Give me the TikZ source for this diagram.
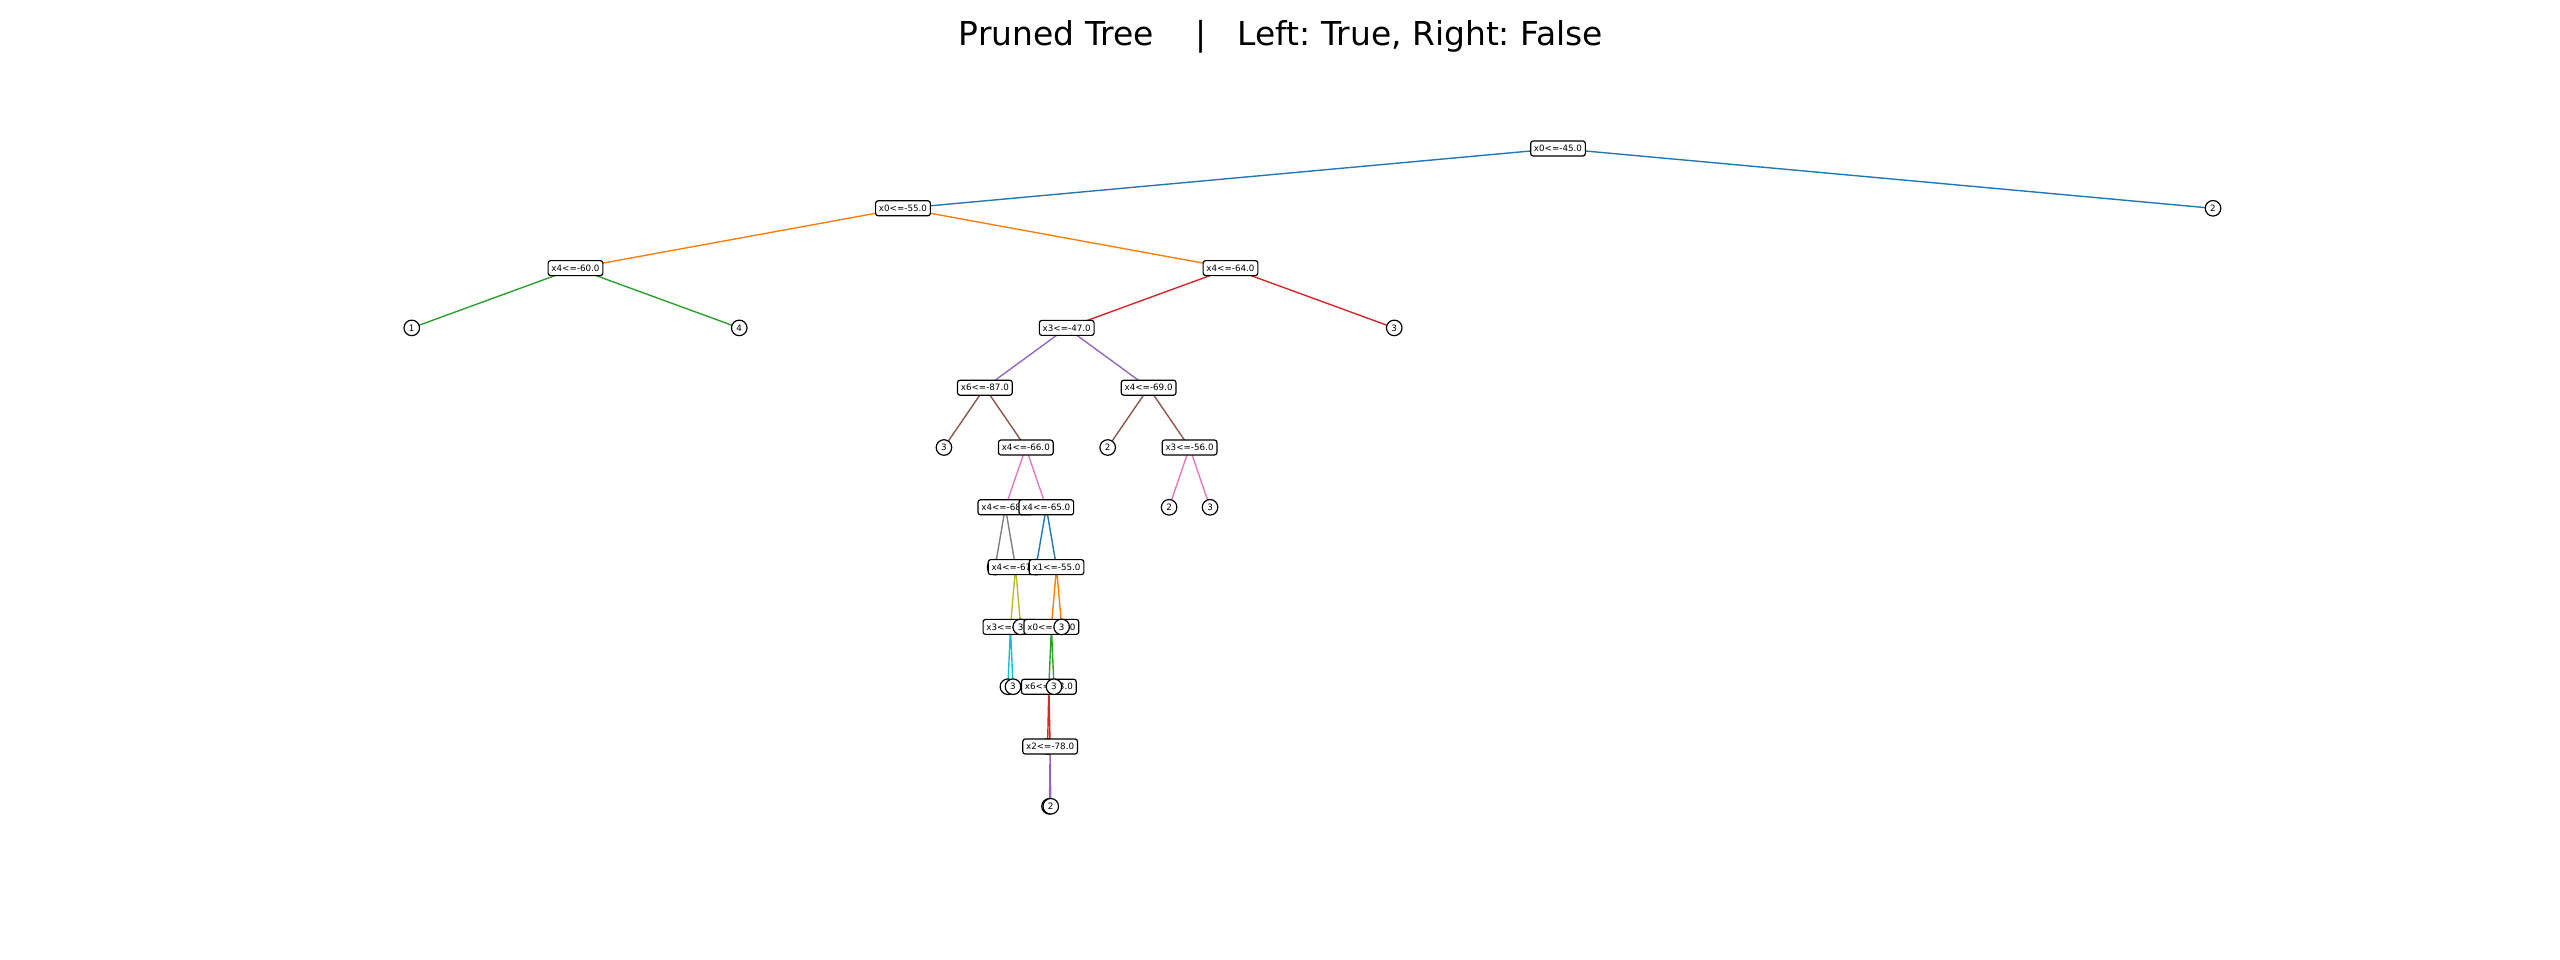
\documentclass[tikz,border=0pt]{standalone}
\usepackage{fontspec}
\setmainfont{DejaVu Sans}
\frenchspacing
\definecolor{tabblue}{HTML}{1F77B4}
\definecolor{taborange}{HTML}{FF7F0E}
\definecolor{tabgreen}{HTML}{2CA02C}
\definecolor{tabred}{HTML}{D62728}
\definecolor{tabpurple}{HTML}{9467BD}
\definecolor{tabbrown}{HTML}{8C564B}
\definecolor{tabpink}{HTML}{E377C2}
\definecolor{tabgray}{HTML}{7F7F7F}
\definecolor{tabolive}{HTML}{BCBD22}
\definecolor{tabcyan}{HTML}{17BECF}
\pgfdeclarelayer{bg}
\pgfsetlayers{bg,main}
\tikzset{
  splitbox/.style={draw, line width=0.85pt, fill=white, rounded corners=1.8pt, inner xsep=2.4pt, inner ysep=0pt, minimum height=10.8pt, font=\fontsize{6.3}{7}\selectfont},
  leafnode/.style={draw, circle, line width=0.85pt, fill=white, minimum size=11.2pt, inner sep=0pt, font=\fontsize{6.3}{7}\selectfont},
  edge/.style={line width=1pt},
}
\begin{document}
\begin{tikzpicture}[x={(0.72pt,0)}, y={(0,-0.72pt)}]
\useasboundingbox (0,0) rectangle (2560,960);
\node[anchor=base, font=\fontsize{23.7}{28}\selectfont] (title) at (1281,45) {Pruned Tree\ \ \ \ |\ \ \ Left: True, Right: False};
% nodes in drawing order (pre-order, left first)
\node[splitbox] (n0) at (1558,148.5) {x0<=-45.0};
\node[splitbox] (n1) at (903,208.3) {x0<=-55.0};
\node[splitbox] (n2) at (575.5,268.1) {x4<=-60.0};
\node[leafnode] (l1) at (411.75,327.9) {1};
\node[leafnode] (l2) at (739.25,327.9) {4};
\node[splitbox] (n3) at (1230.5,268.1) {x4<=-64.0};
\node[splitbox] (n4) at (1066.75,327.9) {x3<=-47.0};
\node[splitbox] (n5) at (984.875,387.7) {x6<=-87.0};
\node[leafnode] (l3) at (943.94,447.5) {3};
\node[splitbox] (n6) at (1025.81,447.5) {x4<=-66.0};
\node[splitbox] (n7) at (1005.34,507.3) {x4<=-68.0};
\node[leafnode] (l4) at (995.11,567.1) {3};
\node[splitbox] (n8) at (1015.58,567.1) {x4<=-67.0};
\node[splitbox] (n9) at (1010.46,626.9) {x3<=-50.0};
\node[leafnode] (l5) at (1007.90,686.7) {3};
\node[leafnode] (l6) at (1013.02,686.7) {3};
\node[leafnode] (l7) at (1020.70,626.9) {3};
\node[splitbox] (n10) at (1046.28,507.3) {x4<=-65.0};
\node[leafnode] (l8) at (1036.05,567.1) {3};
\node[splitbox] (n11) at (1056.52,567.1) {x1<=-55.0};
\node[splitbox] (n12) at (1051.40,626.9) {x0<=-53.0};
\node[splitbox] (n13) at (1048.84,686.7) {x6<=-83.0};
\node[leafnode] (l9) at (1047.56,746.5) {3};
\node[splitbox] (n14) at (1050.12,746.5) {x2<=-78.0};
\node[leafnode] (l10) at (1049.48,806.3) {2};
\node[leafnode] (l11) at (1050.76,806.3) {2};
\node[leafnode] (l12) at (1053.96,686.7) {3};
\node[leafnode] (l13) at (1061.64,626.9) {3};
\node[splitbox] (n15) at (1148.625,387.7) {x4<=-69.0};
\node[leafnode] (l14) at (1107.69,447.5) {2};
\node[splitbox] (n16) at (1189.56,447.5) {x3<=-56.0};
\node[leafnode] (l15) at (1169.09,507.3) {2};
\node[leafnode] (l16) at (1210.03,507.3) {3};
\node[leafnode] (l17) at (1394.25,327.9) {3};
\node[leafnode] (l18) at (2213,208.3) {2};
% edges
\begin{pgfonlayer}{bg}
\draw[edge, tabblue] (n1.center) -- (n0.center) -- (l18.center);
\draw[edge, taborange] (n2.center) -- (n1.center) -- (n3.center);
\draw[edge, tabgreen] (l1.center) -- (n2.center) -- (l2.center);
\draw[edge, tabred] (n4.center) -- (n3.center) -- (l17.center);
\draw[edge, tabpurple] (n5.center) -- (n4.center) -- (n15.center);
\draw[edge, tabbrown] (l3.center) -- (n5.center) -- (n6.center);
\draw[edge, tabpink] (n7.center) -- (n6.center) -- (n10.center);
\draw[edge, tabgray] (l4.center) -- (n7.center) -- (n8.center);
\draw[edge, tabolive] (n9.center) -- (n8.center) -- (l7.center);
\draw[edge, tabcyan] (l5.center) -- (n9.center) -- (l6.center);
\draw[edge, tabblue] (l8.center) -- (n10.center) -- (n11.center);
\draw[edge, taborange] (n12.center) -- (n11.center) -- (l13.center);
\draw[edge, tabgreen] (n13.center) -- (n12.center) -- (l12.center);
\draw[edge, tabred] (l9.center) -- (n13.center) -- (n14.center);
\draw[edge, tabpurple] (l10.center) -- (n14.center) -- (l11.center);
\draw[edge, tabbrown] (l14.center) -- (n15.center) -- (n16.center);
\draw[edge, tabpink] (l15.center) -- (n16.center) -- (l16.center);
\end{pgfonlayer}
\end{tikzpicture}
\end{document}
